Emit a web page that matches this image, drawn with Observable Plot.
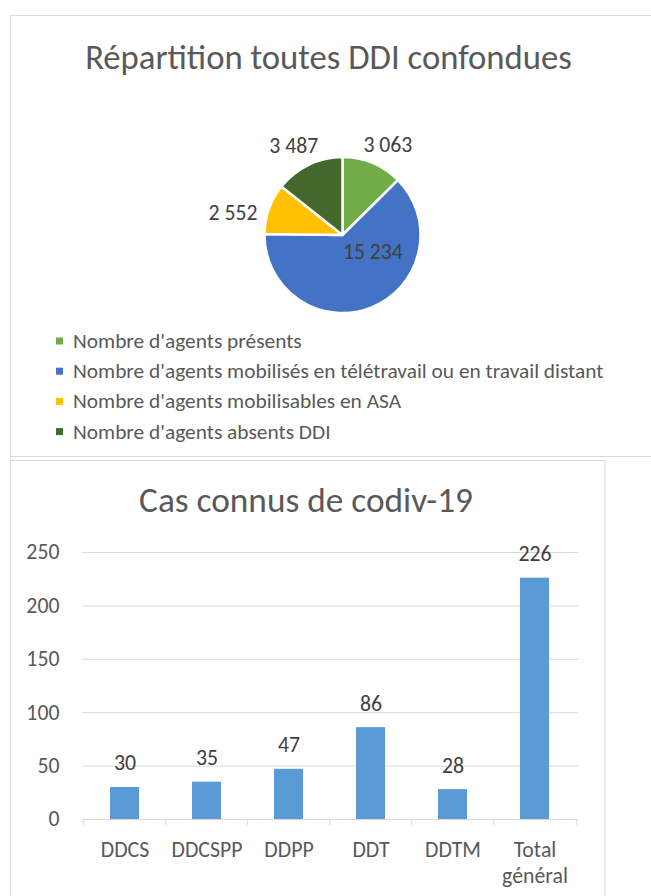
<!DOCTYPE html>
<html><head><meta charset="utf-8">
<script src="https://cdn.jsdelivr.net/npm/d3@7"></script>
<script src="https://cdn.jsdelivr.net/npm/@observablehq/plot@0.6"></script>
<style>
html,body{margin:0;padding:0;background:#fff;}
#page{position:relative;width:651px;height:896px;overflow:hidden;background:#fff;}
#page > svg{position:absolute;left:0;}
</style></head><body><div id="page"></div>
<script>
// ---- data ----
const pieTitle = "Répartition toutes DDI confondues";
const sliceNames = [
  "Nombre d'agents présents",
  "Nombre d'agents mobilisés en télétravail ou en travail distant",
  "Nombre d'agents mobilisables en ASA",
  "Nombre d'agents absents DDI"
];
const sliceValues = [3063, 15234, 2552, 3487];
const sliceColors = ["#70AD47", "#4472C4", "#FFC000", "#43682B"];

const barTitle = "Cas connus de codiv-19";
const barCategories = ["DDCS", "DDCSPP", "DDPP", "DDT", "DDTM", "Total général"];
const barValues = [30, 35, 47, 86, 28, 226];
const barColor = "#5B9BD5";
const yTicks = [0, 50, 100, 150, 200, 250];

// ---- helpers ----
const FONT = "Carlito, Calibri, Lato, sans-serif";
const ctx = document.createElement("canvas").getContext("2d");
function fitSize(text, width) { ctx.font = `100px ${FONT}`; return 100 * width / ctx.measureText(text).width; }
const frLocale = d3.formatLocale({decimal: ",", thousands: "\u00a0", grouping: [3], currency: ["", "\u00a0€"]});
const fmt = frLocale.format(",d");
const page = document.getElementById("page");

// ---- pie ----
const pieRows = sliceNames.map((name, i) => ({name, value: sliceValues[i]}));
const arcs = d3.pie().sort(null).value(d => d.value)(pieRows);
const labelPlacement = [{r: 1.30, da: 3.6}, {r: 0.44, da: -38.5}, {r: 1.44, da: -8}, {r: 1.31, da: -3}];
const pieLabels = arcs.map((a, i) => {
  const t = (a.startAngle + a.endAngle) / 2 + labelPlacement[i].da * Math.PI / 180;
  const r = labelPlacement[i].r;
  return {text: fmt(a.value), lx: r * Math.sin(t), ly: r * Math.cos(t)};
});
const pieFont = fitSize(fmt(15234), 60);
const R = 78, cx = 342.5, cy = 115, pieTop = 120;
const sliceColor = d3.scaleOrdinal(sliceNames, sliceColors);
const pieSvg = Plot.plot({
  width: 651, height: 210, margin: 0,
  x: {domain: [-1, 1], range: [cx - R, cx + R], axis: null},
  y: {domain: [-1, 1], range: [cy + R, cy - R], axis: null},
  style: {fontFamily: FONT, background: "none"},
  marks: [
    (index, scales) => {
      const x0 = scales.x(0), y0 = scales.y(0), rr = scales.x(1) - scales.x(0);
      const g = d3.create("svg:g").attr("transform", `translate(${x0},${y0})`);
      g.selectAll("path").data(arcs).join("path")
        .attr("d", d3.arc().innerRadius(0).outerRadius(rr))
        .attr("fill", d => sliceColor(d.data.name))
        .attr("stroke", "#fff").attr("stroke-width", 2.5).attr("stroke-linejoin", "round");
      return g.node();
    },
    Plot.text(pieLabels, {x: "lx", y: "ly", text: "text", fill: "#404040", fontSize: pieFont})
  ]
});
pieSvg.style.top = pieTop + "px";
page.appendChild(pieSvg);

// ---- bars ----
const barRows = barCategories.map((cat, i) => ({cat, value: barValues[i]}));
const W = 651, H = 366, mL = 82, mR = 73, mT = 22, mB = 77, barTop = 530;
const step = (W - mL - mR) / barCategories.length;
const axisFont = fitSize("DDCSPP", 71);
const barSvg = Plot.plot({
  width: W, height: H, marginLeft: mL, marginRight: mR, marginTop: mT, marginBottom: mB,
  style: {fontFamily: FONT, color: "#595959", background: "none"},
  x: {domain: barCategories, paddingInner: 0.645, paddingOuter: 0.3225, axis: null},
  y: {domain: [0, 250], axis: null},
  marks: [
    Plot.gridY(yTicks, {stroke: "#D9D9D9", strokeOpacity: 1}),
    Plot.axisX({fill: "none", stroke: "#D9D9D9", tickSize: 6, dx: -step / 2, label: null}),
    Plot.axisX({ticks: [barCategories[barCategories.length - 1]], fill: "none", stroke: "#D9D9D9", tickSize: 6, dx: step / 2, label: null}),
    Plot.axisX({tickSize: 0, tickPadding: 35 - 0.71 * axisFont, fontSize: axisFont, lineHeight: 26 / axisFont,
      tickFormat: d => d.replace(" ", "\n"), label: null, fill: "#595959"}),
    Plot.axisY(yTicks, {tickSize: 0, tickPadding: 23, fontSize: axisFont, label: null, fill: "#595959"}),
    Plot.barY(barRows, {x: "cat", y: "value", fill: barColor}),
    Plot.text(barRows, {x: "cat", y: "value", text: d => String(d.value), dy: -24, fill: "#404040", fontSize: axisFont})
  ]
});
barSvg.style.top = barTop + "px";
page.appendChild(barSvg);

// ---- frames, titles, legend ----
const ov = d3.create("svg").attr("width", 651).attr("height", 896)
  .style("top", "0px").style("pointer-events", "none").style("font-family", FONT);
ov.append("rect").attr("x", 10.5).attr("y", 15.5).attr("width", 700).attr("height", 441)
  .attr("fill", "none").attr("stroke", "#D9D9D9");
ov.append("rect").attr("x", 10.5).attr("y", 460.5).attr("width", 594.5).attr("height", 500)
  .attr("fill", "none").attr("stroke", "#D9D9D9");
ov.append("text").attr("x", 328.5).attr("y", 69).attr("text-anchor", "middle")
  .attr("font-size", fitSize(pieTitle, 487)).attr("fill", "#595959").text(pieTitle);
ov.append("text").attr("x", 306).attr("y", 512).attr("text-anchor", "middle")
  .attr("font-size", fitSize(barTitle, 334)).attr("fill", "#595959").text(barTitle);
const legFont = fitSize(sliceNames[1], 531);
const leg = ov.append("g");
sliceNames.forEach((name, i) => {
  const by = 348 + i * 30.2;
  leg.append("rect").attr("x", 56).attr("y", by - 10.5).attr("width", 7).attr("height", 7).attr("fill", sliceColors[i]);
  leg.append("text").attr("x", 73).attr("y", by).attr("font-size", legFont).attr("fill", "#595959").text(name);
});
page.appendChild(ov.node());
</script>
</body></html>
